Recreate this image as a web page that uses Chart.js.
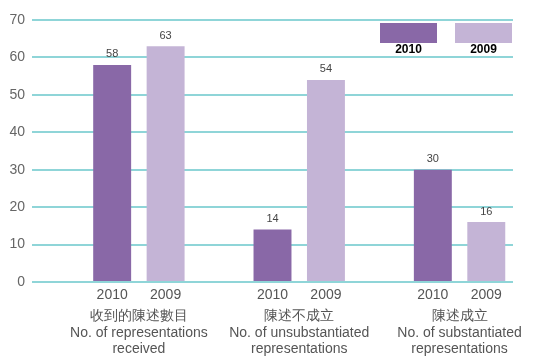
<!DOCTYPE html>
<html>
<head>
<meta charset="utf-8">
<script src="https://cdn.jsdelivr.net/npm/chart.js@4"></script>
<style>
  html, body { margin: 0; padding: 0; background: #fff; }
  #wrap { width: 535px; height: 364px; }
</style>
</head>
<body>
<div id="wrap"><canvas id="c" width="535" height="364"></canvas></div>
<script>
// ── Data ────────────────────────────────────────────────
const years      = ["2010", "2009"];
const catZh      = ["收到的陳述數目", "陳述不成立", "陳述成立"];
const catEn      = [
  ["No. of representations", "received"],
  ["No. of unsubstantiated", "representations"],
  ["No. of substantiated", "representations"],
];
const values2010 = [58, 14, 30];
const values2009 = [63, 54, 16];
const yTicks     = [0, 10, 20, 30, 40, 50, 60, 70];

const C2010 = "#8968a7";
const C2009 = "#c4b4d6";
const GRID  = "#8fd5d8";
const FONT  = "'Liberation Sans', Arial, sans-serif";

// ── Labels, values and legend drawn on top ───────────────
const extras = {
  id: "extras",
  afterDatasetsDraw(chart) {
    const ctx = chart.ctx;
    const m10 = chart.getDatasetMeta(1);
    const m09 = chart.getDatasetMeta(2);
    ctx.save();
    ctx.textAlign = "center";

    // values above bars
    ctx.font = "11px " + FONT;
    ctx.fillStyle = "#444";
    ctx.textBaseline = "bottom";
    [[m10, values2010], [m09, values2009]].forEach(([meta, vals]) => {
      meta.data.forEach((bar, i) => ctx.fillText(String(vals[i]), bar.x, bar.y - 5));
    });

    // category labels
    ctx.textBaseline = "middle";
    ctx.font = "14px " + FONT;
    ctx.fillStyle = "#555";
    catZh.forEach((zh, i) => {
      const x10 = m10.data[i].x, x09 = m09.data[i].x;
      const mid = (x10 + x09) / 2;
      ctx.fillText(years[0], x10, 295);
      ctx.fillText(years[1], x09, 295);
      ctx.fillText(zh, mid, 316);
      ctx.fillText(catEn[i][0], mid, 333);
      ctx.fillText(catEn[i][1], mid, 349);
    });

    // legend
    const boxes = [[380, C2010, years[0]], [455, C2009, years[1]]];
    ctx.font = "bold 12px " + FONT;
    ctx.fillStyle = "#000";
    boxes.forEach(([x, col, txt]) => {
      ctx.fillStyle = col;
      ctx.fillRect(x, 23, 57, 20);
      ctx.fillStyle = "#000";
      ctx.fillText(txt, x + 28.5, 50);
    });
    ctx.restore();
  },
};

new Chart(document.getElementById("c"), {
  type: "bar",
  data: {
    labels: catZh,
    datasets: [
      { label: "", data: [null, null, null], backgroundColor: "transparent" },
      { label: years[0], data: values2010, backgroundColor: C2010 },
      { label: years[1], data: values2009, backgroundColor: C2009 },
    ],
  },
  options: {
    responsive: false,
    animation: false,
    devicePixelRatio: 1,
    categoryPercentage: 1.0,
    barPercentage: 0.71,
    layout: { padding: { top: 20, right: 22, bottom: 82, left: 0 } },
    plugins: { legend: { display: false }, tooltip: { enabled: false } },
    scales: {
      x: { display: false },
      y: {
        min: 0, max: 70,
        afterFit: s => { s.width = 32; },
        afterBuildTicks: s => { s.ticks = yTicks.map(v => ({ value: v })); },
        ticks: { color: "#666", font: { family: FONT, size: 14 }, padding: 7 },
        grid: { color: GRID, lineWidth: 2, drawTicks: false },
        border: { display: false },
      },
    },
  },
  plugins: [extras],
});
</script>
</body>
</html>
